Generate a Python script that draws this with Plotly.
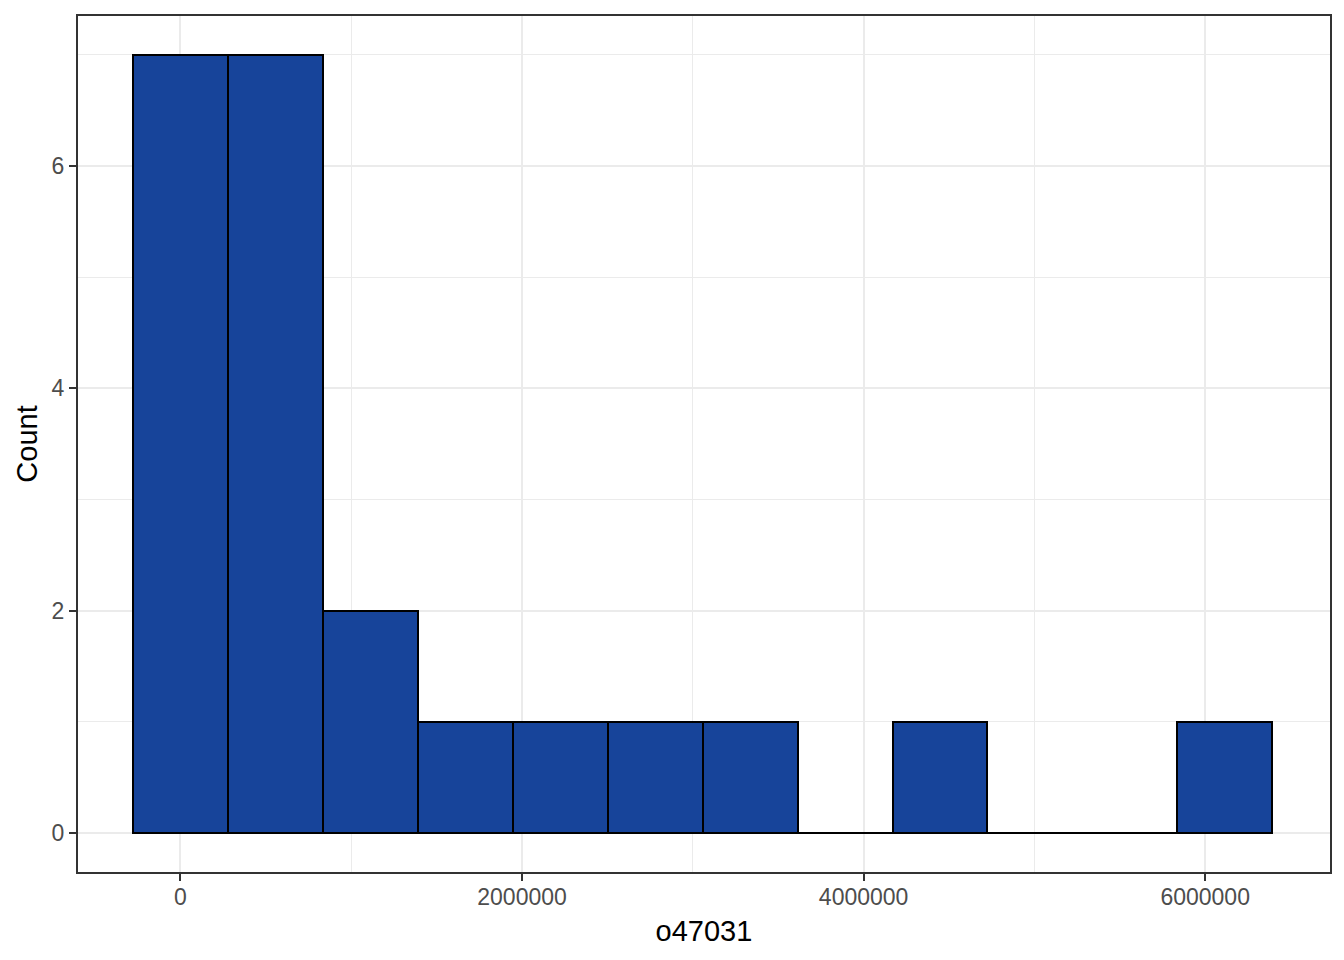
import plotly.graph_objects as go

# Histogram of o47031 (12 bins)
bin_width = 555900
bin_centers = [0, 555900, 1111800, 1667700, 2223600, 2779500,
               3335400, 3891300, 4447200, 5003100, 5559000, 6114900]
counts = [7, 7, 2, 1, 1, 1, 1, 0, 1, 0, 0, 1]

x_ticks = [0, 2000000, 4000000, 6000000]
x_tick_labels = ["0", "2000000", "4000000", "6000000"]
y_ticks = [0, 2, 4, 6]
y_tick_labels = ["0", "2", "4", "6"]
x_range = [-600000, 6731000]
y_range = [-0.35, 7.35]

FONT = "Liberation Sans, Arial, sans-serif"

fig = go.Figure()

fig.add_trace(go.Bar(
    x=bin_centers, y=counts, width=[bin_width] * len(bin_centers),
    marker=dict(color="#17449A", line=dict(color="black", width=2)),
    showlegend=False, hoverinfo="x+y",
))

# zero-count bins drawn as flat outline at y=0 (as ggplot does)
zx, zy = [], []
for c, n in zip(bin_centers, counts):
    if n == 0:
        zx += [c - bin_width / 2, c + bin_width / 2, None]
        zy += [0, 0, None]
fig.add_trace(go.Scatter(x=zx, y=zy, mode="lines",
                         line=dict(color="black", width=2),
                         showlegend=False, hoverinfo="skip"))

fig.update_layout(
    width=1344, height=960,
    margin=dict(l=70, r=22, t=6, b=96),
    paper_bgcolor="white", plot_bgcolor="white",
    font=dict(family=FONT),
    bargap=0,
)
fig.update_xaxes(
    range=x_range,
    tickvals=x_ticks, ticktext=x_tick_labels,
    tickfont=dict(size=23, color="#4D4D4D"),
    ticks="outside", ticklen=7, tickwidth=2, tickcolor="#333333",
    ticklabelstandoff=-4,
    showgrid=True, gridcolor="#EBEBEB", gridwidth=2,
    minor=dict(tickvals=[1000000, 3000000, 5000000], showgrid=True,
               gridcolor="#EBEBEB", gridwidth=1, ticks=""),
    showline=True, linecolor="#333333", linewidth=2, mirror=True,
    zeroline=False,
    title=dict(text="o47031", font=dict(size=29, color="black"), standoff=12),
)
fig.update_yaxes(
    range=y_range,
    tickvals=y_ticks, ticktext=y_tick_labels,
    tickfont=dict(size=23, color="#4D4D4D"),
    ticks="outside", ticklen=7, tickwidth=2, tickcolor="#333333",
    showgrid=True, gridcolor="#EBEBEB", gridwidth=2,
    minor=dict(tickvals=[1, 3, 5, 7], showgrid=True,
               gridcolor="#EBEBEB", gridwidth=1, ticks=""),
    showline=True, linecolor="#333333", linewidth=2, mirror=True,
    zeroline=False,
    title=dict(text="Count", font=dict(size=29, color="black"), standoff=5),
)

fig.write_html("out.html")
